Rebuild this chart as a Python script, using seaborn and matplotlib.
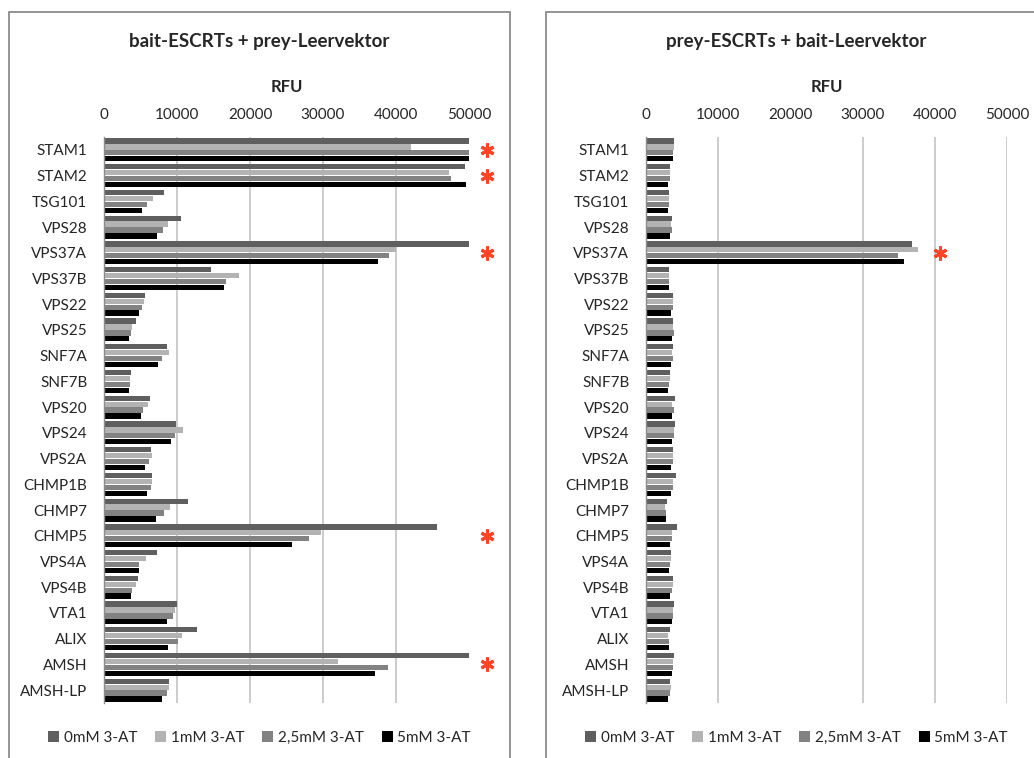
import pandas as pd
import matplotlib
matplotlib.use('Agg')
import matplotlib.pyplot as plt
from matplotlib.patches import Patch, Rectangle
import seaborn as sns

sns.set_theme(style='white')
plt.rcParams['font.family'] = ['Lato', 'DejaVu Sans']

# ----------------------------------------------------------------------
# data (RFU), bars at 50000 are cut at the axis end
# ----------------------------------------------------------------------
proteins = ['STAM1', 'STAM2', 'TSG101', 'VPS28', 'VPS37A', 'VPS37B', 'VPS22',
            'VPS25', 'SNF7A', 'SNF7B', 'VPS20', 'VPS24', 'VPS2A', 'CHMP1B',
            'CHMP7', 'CHMP5', 'VPS4A', 'VPS4B', 'VTA1', 'ALIX', 'AMSH', 'AMSH-LP']
conditions = ['0mM 3-AT', '1mM 3-AT', '2,5mM 3-AT', '5mM 3-AT']
colors = ['#5f5f5f', '#b3b3b3', '#828282', '#000000']

# bait-ESCRTs + prey-Leervektor
bait_0 = [50000, 49400, 8260, 10500, 50000, 14600, 5660, 4340, 8680, 3650, 6300,
          9910, 6440, 6580, 11460, 45570, 7210, 4610, 9950, 12790, 50000, 8950]
bait_1 = [42000, 47300, 6670, 8810, 39950, 18540, 5480, 3790, 8950, 3520, 6030,
          10780, 6580, 6580, 9090, 29730, 5800, 4340, 9730, 10640, 32010, 8950]
bait_25 = [50000, 47600, 5940, 8130, 39000, 16700, 5250, 3650, 7900, 3520, 5390,
           9680, 6120, 6440, 8260, 28040, 4840, 3790, 9500, 10140, 38860, 8680]
bait_5 = [50000, 49600, 5250, 7210, 37530, 16480, 4840, 3380, 7350, 3380, 5110,
          9220, 5660, 5890, 7080, 25800, 4750, 3650, 8680, 8810, 37170, 7900]

# prey-ESCRTs + bait-Leervektor
prey_0 = [3920, 3360, 3230, 3640, 36910, 3230, 3780, 3780, 3780, 3360, 4060,
          4060, 3780, 4190, 2950, 4330, 3500, 3780, 3920, 3360, 3920, 3360]
prey_1 = [3920, 3360, 3230, 3500, 37700, 3230, 3780, 3780, 3640, 3360, 3640,
          3920, 3780, 3780, 2670, 3640, 3500, 3780, 3780, 3090, 3780, 3500]
prey_25 = [3780, 3360, 3230, 3640, 34880, 3230, 3780, 3920, 3780, 3230, 3920,
           3920, 3780, 3780, 2810, 3640, 3360, 3640, 3780, 3230, 3780, 3360]
prey_5 = [3780, 3090, 3090, 3360, 35710, 3230, 3500, 3640, 3500, 3090, 3640,
          3640, 3500, 3500, 2810, 3360, 3230, 3360, 3640, 3230, 3640, 3090]

# significant hits (red asterisks) and where the asterisk sits on the RFU axis
bait_stars = ['STAM1', 'STAM2', 'VPS37A', 'CHMP5', 'AMSH']
prey_stars = ['VPS37A']
bait_star_x = 52500
prey_star_x = 40700


def to_long(series):
    rows = []
    for cond, vals in zip(conditions, series):
        for p, v in zip(proteins, vals):
            rows.append({'protein': p, 'condition': cond, 'RFU': v})
    return pd.DataFrame(rows)


bait_df = to_long([bait_0, bait_1, bait_25, bait_5])
prey_df = to_long([prey_0, prey_1, prey_25, prey_5])

W, H = 1034, 758
fig = plt.figure(figsize=(W / 100, H / 100), dpi=100)
ax_left = fig.add_axes([104 / W, 1 - 703 / H, 365 / W, 566 / H])
ax_right = fig.add_axes([646 / W, 1 - 703 / H, 361 / W, 566 / H])

panels = [
    (ax_left, bait_df, 'bait-ESCRTs + prey-Leervektor', bait_stars, bait_star_x, 9, 5),
    (ax_right, prey_df, 'prey-ESCRTs + bait-Leervektor', prey_stars, prey_star_x, 546, 2),
]

for ax, df, title, stars, star_x, frame_x, hidden_grid in panels:
    sns.barplot(data=df, x='RFU', y='protein', hue='condition', order=proteins,
                hue_order=conditions, palette=colors, width=0.92, gap=0.12,
                edgecolor='none', orient='h', legend=False, ax=ax)
    ax.set_xlim(0, 50000)
    ax.set_ylim(len(proteins) - 0.5, -0.5)
    ax.set_xticks(range(0, 50001, 10000))
    ax.xaxis.tick_top()
    ax.xaxis.set_label_position('top')
    ax.set_xlabel('RFU', fontsize=12, fontweight='bold', labelpad=11)
    ax.set_ylabel('')
    ax.tick_params(axis='x', length=0, pad=11, labelsize=11)
    ax.tick_params(axis='y', length=0, pad=12, labelsize=11)
    for s in ['top', 'right', 'bottom']:
        ax.spines[s].set_visible(False)
    ax.spines['left'].set_color('#8c8c8c')
    ax.spines['left'].set_linewidth(1.0)
    ax.xaxis.grid(True, color='#c3c3c3', linewidth=1.2)
    ax.set_axisbelow(True)
    ax.get_xgridlines()[hidden_grid].set_visible(False)

    # red asterisks next to the hits
    ax.plot([star_x] * len(stars), [proteins.index(p) for p in stars],
            linestyle='none', marker=(6, 2, 0), markersize=10, mew=2.2,
            color='#ff4326', clip_on=False, zorder=5)

    # panel frame (Excel chart border), running off the picture edge
    fig.add_artist(Rectangle((frame_x / W, -0.05), 501 / W, (H - 12) / H + 0.05,
                             transform=fig.transFigure, fill=False,
                             edgecolor='#8c8c8c', linewidth=1.3))
    cx = (frame_x + 250.5) / W
    fig.text(cx, 1 - 41 / H, title, ha='center', va='center',
             fontsize=13.5, fontweight='bold')

    handles = [Patch(facecolor=c, edgecolor='none') for c in colors]
    fig.legend(handles, conditions, loc='center', bbox_to_anchor=(cx, 1 - 738 / H),
               ncol=4, frameon=False, fontsize=11, handlelength=0.7,
               handleheight=0.7, handletextpad=0.3, columnspacing=1.2)

fig.savefig('out.png', dpi=100)
